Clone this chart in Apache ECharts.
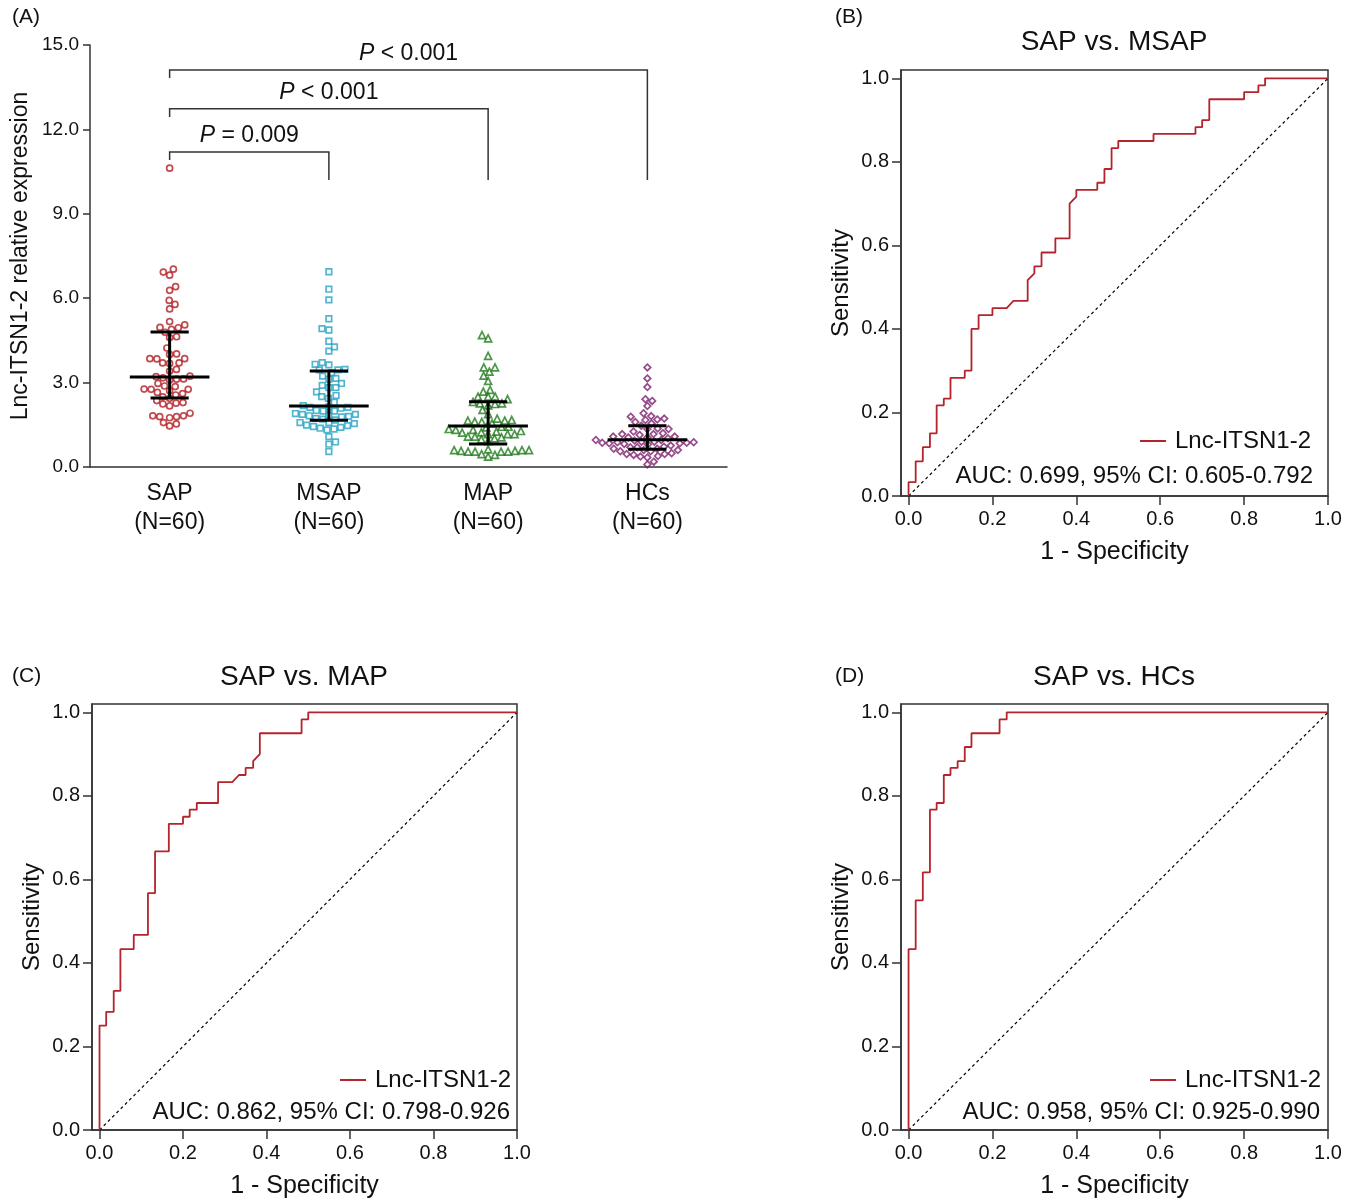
<!DOCTYPE html>
<html>
<head>
<meta charset="utf-8">
<script src="https://cdn.jsdelivr.net/npm/echarts@6/dist/echarts.min.js"></script>
<style>
  html, body { margin: 0; padding: 0; background: #fff; }
  #chart { width: 1354px; height: 1201px; }
</style>
</head>
<body>
<div id="chart"></div>
<script>
// ---- panel A: expression per group ----
const groupLabels = ['SAP\n(N=60)', 'MSAP\n(N=60)', 'MAP\n(N=60)', 'HCs\n(N=60)']
const yTicksA = [0, 3, 6, 9, 12, 15]

const sapValues = [10.62, 7.03, 6.93, 6.82, 6.41, 6.28, 5.92, 5.78, 5.62, 5.17, 5.05, 4.96, 4.95, 4.89, 4.79,
  4.63, 4.60, 4.23, 4.02, 4.00, 3.85, 3.84, 3.85, 3.70, 3.68, 3.70, 3.47, 3.41, 3.23, 3.17, 3.13, 3.21, 3.12,
  3.09, 2.97, 2.86, 2.88, 2.77, 2.76, 2.71, 2.76, 2.65, 2.56, 2.61, 2.49, 2.44, 2.36, 2.27, 2.17, 2.24, 2.29,
  1.91, 1.79, 1.82, 1.79, 1.82, 1.75, 1.58, 1.53, 1.46]
const msapValues = [6.94, 6.32, 5.94, 5.27, 4.92, 4.87, 4.47, 4.27, 4.12, 3.65, 3.63, 3.71, 3.45, 3.47, 3.45,
  3.35, 3.15, 3.12, 3.23, 2.97, 2.90, 2.82, 2.82, 2.67, 2.54, 2.50, 2.44, 2.30, 2.14, 2.12, 2.12, 2.09, 2.18,
  1.99, 1.99, 2.01, 1.87, 1.87, 1.82, 1.80, 1.84, 1.78, 1.90, 1.73, 1.70, 1.67, 1.58, 1.54, 1.47, 1.44, 1.38,
  1.41, 1.49, 1.58, 1.32, 1.35, 1.08, 0.81, 0.89, 0.55]
const mapValues = [4.69, 4.57, 3.95, 3.54, 3.54, 3.39, 3.25, 3.06, 2.74, 2.68, 2.50, 2.50, 2.50, 2.41, 2.31,
  2.26, 2.24, 2.26, 2.19, 2.03, 1.88, 1.72, 1.67, 1.65, 1.65, 1.60, 1.55, 1.61, 1.43, 1.41, 1.43, 1.32, 1.28,
  1.26, 1.32, 1.35, 1.17, 1.17, 1.22, 1.17, 1.23, 1.08, 1.08, 1.05, 0.98, 0.92, 1.02, 0.60, 0.57, 0.55, 0.55,
  0.60, 0.63, 0.55, 0.55, 0.57, 0.60, 0.46, 0.43, 0.37]
const hcsValues = [3.54, 3.15, 2.84, 2.41, 2.35, 2.17, 1.91, 1.81, 1.79, 1.67, 1.69, 1.72, 1.60, 1.55, 1.47,
  1.35, 1.37, 1.35, 1.26, 1.17, 1.14, 1.17, 1.20, 1.08, 1.05, 1.02, 1.08, 1.05, 0.96, 0.90, 0.94, 0.90, 0.96,
  0.86, 0.84, 0.88, 0.82, 0.86, 0.84, 0.80, 0.88, 0.72, 0.70, 0.65, 0.65, 0.70, 0.76, 0.60, 0.56, 0.56, 0.60,
  0.46, 0.46, 0.49, 0.37, 0.34, 0.39, 0.43, 0.19, 0.09]

const medians = [3.20, 2.17, 1.46, 0.97]
const q1Values = [2.45, 1.66, 0.82, 0.63]
const q3Values = [4.80, 3.41, 2.32, 1.47]

// significance brackets: SAP vs group index
const bracketTargets = [1, 2, 3]
const bracketTops = [11.2, 12.73, 14.11]
const bracketLeftEnds = [10.91, 12.44, 13.83]
const bracketRightEnd = 10.2
const bracketLabels = ['= 0.009', '< 0.001', '< 0.001']

// ---- ROC curves ----
const msapFpr = [0, 0, 0.017, 0.017, 0.034, 0.034, 0.051, 0.051, 0.067, 0.067, 0.084, 0.084, 0.1, 0.1, 0.134, 0.134,
  0.15, 0.15, 0.167, 0.167, 0.2, 0.2, 0.234, 0.25, 0.284, 0.284, 0.3, 0.3, 0.317, 0.317, 0.35, 0.35, 0.384, 0.384,
  0.4, 0.4, 0.45, 0.45, 0.467, 0.467, 0.484, 0.484, 0.5, 0.5, 0.584, 0.584, 0.684, 0.684, 0.7, 0.7, 0.717, 0.717,
  0.8, 0.8, 0.834, 0.834, 0.85, 0.85, 1]
const msapTpr = [0, 0.033, 0.033, 0.083, 0.083, 0.117, 0.117, 0.15, 0.15, 0.217, 0.217, 0.233, 0.233, 0.283, 0.283, 0.3,
  0.3, 0.4, 0.4, 0.433, 0.433, 0.45, 0.45, 0.467, 0.467, 0.517, 0.533, 0.55, 0.55, 0.583, 0.583, 0.617, 0.617, 0.7,
  0.717, 0.733, 0.733, 0.75, 0.75, 0.783, 0.783, 0.833, 0.833, 0.85, 0.85, 0.867, 0.867, 0.883, 0.883, 0.9, 0.9, 0.95,
  0.95, 0.967, 0.967, 0.983, 0.983, 1, 1]
const mapFpr = [0, 0, 0.016, 0.016, 0.034, 0.034, 0.05, 0.05, 0.082, 0.082, 0.116, 0.116, 0.133, 0.133, 0.166, 0.166,
  0.2, 0.2, 0.216, 0.216, 0.233, 0.233, 0.284, 0.284, 0.318, 0.334, 0.35, 0.35, 0.368, 0.368, 0.384, 0.384, 0.484,
  0.484, 0.5, 0.5, 1]
const mapTpr = [0, 0.25, 0.25, 0.283, 0.283, 0.333, 0.333, 0.433, 0.433, 0.467, 0.467, 0.567, 0.567, 0.667, 0.667, 0.733,
  0.733, 0.75, 0.75, 0.767, 0.767, 0.783, 0.783, 0.833, 0.833, 0.85, 0.85, 0.867, 0.867, 0.883, 0.9, 0.95, 0.95,
  0.983, 0.983, 1, 1]
const hcsFpr = [0, 0, 0.017, 0.017, 0.034, 0.034, 0.051, 0.051, 0.067, 0.067, 0.084, 0.084, 0.1, 0.1, 0.117, 0.117,
  0.134, 0.134, 0.15, 0.15, 0.217, 0.217, 0.234, 0.234, 1]
const hcsTpr = [0, 0.433, 0.433, 0.55, 0.55, 0.617, 0.617, 0.767, 0.767, 0.783, 0.783, 0.85, 0.85, 0.867, 0.867, 0.883,
  0.883, 0.917, 0.917, 0.95, 0.95, 0.983, 0.983, 1, 1]

const rocTitles = ['SAP vs. MSAP', 'SAP vs. MAP', 'SAP vs. HCs']
const aucTexts = ['AUC: 0.699, 95% CI: 0.605-0.792', 'AUC: 0.862, 95% CI: 0.798-0.926', 'AUC: 0.958, 95% CI: 0.925-0.990']
const rocTicks = [0, 0.2, 0.4, 0.6, 0.8, 1.0]
const seriesName = 'Lnc-ITSN1-2'

const FONT = "'Liberation Sans', Arial, Helvetica, sans-serif"
const INK = '#111'
const AXIS = '#333'
const ROC_RED = '#b3242c'

const gridA = { left: 90, top: 45, width: 637, height: 422 }
const rocGrids = [
  { left: 901, top: 70, width: 427, height: 426 },
  { left: 92, top: 704, width: 425, height: 426 },
  { left: 901, top: 704, width: 427, height: 426 }
]

// simple beeswarm: place each point as close to the centre as it can go without overlap
function swarm(values, diam, pxPerUnit, bandPx) {
  const order = values.map((v, i) => i).sort((a, b) => values[a] - values[b])
  const placed = []
  const out = new Array(values.length)
  let flip = 1
  order.forEach(i => {
    const y = values[i] * pxPerUnit
    const cands = [0]
    placed.forEach(p => {
      const dy = Math.abs(p.y - y)
      if (dy < diam) {
        const dx = Math.sqrt(diam * diam - dy * dy)
        cands.push(p.x + dx, p.x - dx)
      }
    })
    cands.sort((a, b) => (Math.abs(a) - Math.abs(b)) || (flip * (b - a)))
    const x = cands.find(c => placed.every(p => (p.x - c) ** 2 + (p.y - y) ** 2 >= diam * diam - 1e-6))
    if (x !== 0) flip = -flip
    placed.push({ x, y })
    out[i] = x / bandPx
  })
  return out
}

const pxPerUnitA = gridA.height / 15
const bandA = gridA.width / 4
const groupDefs = [
  { values: sapValues, color: '#b01e24', symbol: 'circle', size: 6 },
  { values: msapValues, color: '#27a2c4', symbol: 'rect', size: 5.6 },
  { values: mapValues, color: '#1f7a1c', symbol: 'triangle', size: 7 },
  { values: hcsValues, color: '#7d1f6e', symbol: 'diamond', size: 6.6 }
]

const scatterSeries = groupDefs.map((g, gi) => {
  const offs = swarm(g.values, 7, pxPerUnitA, bandA)
  return {
    type: 'scatter',
    xAxisIndex: 1,
    yAxisIndex: 0,
    symbol: g.symbol,
    symbolSize: g.size,
    itemStyle: { color: 'rgba(255,255,255,0)', borderColor: g.color, borderWidth: 1.7 },
    data: g.values.map((v, i) => [gi + offs[i], v]),
    z: 2
  }
})

const errorSeries = {
  type: 'custom',
  xAxisIndex: 1,
  yAxisIndex: 0,
  z: 5,
  data: medians.map((m, i) => [i, m, q1Values[i], q3Values[i]]),
  renderItem: (params, api) => {
    const i = api.value(0)
    const m = api.value(1), lo = api.value(2), hi = api.value(3)
    const seg = (a, b) => ({
      type: 'line',
      shape: { x1: a[0], y1: a[1], x2: b[0], y2: b[1] },
      style: { stroke: '#000', lineWidth: 3 }
    })
    return {
      type: 'group',
      children: [
        seg(api.coord([i - 0.25, m]), api.coord([i + 0.25, m])),
        seg(api.coord([i, lo]), api.coord([i, hi])),
        seg(api.coord([i - 0.12, lo]), api.coord([i + 0.12, lo])),
        seg(api.coord([i - 0.12, hi]), api.coord([i + 0.12, hi]))
      ]
    }
  }
}

const bracketSeries = {
  type: 'custom',
  xAxisIndex: 1,
  yAxisIndex: 0,
  z: 4,
  data: bracketTargets.map((t, i) => [t, bracketTops[i], bracketLeftEnds[i], bracketRightEnd, i]),
  renderItem: (params, api) => {
    const t = api.value(0), top = api.value(1), le = api.value(2), re = api.value(3)
    const idx = api.value(4)
    const pts = [api.coord([0, le]), api.coord([0, top]), api.coord([t, top]), api.coord([t, re])]
    const mid = api.coord([t / 2, top])
    return {
      type: 'group',
      children: [
        { type: 'polyline', shape: { points: pts }, style: { stroke: AXIS, lineWidth: 1.5, fill: null } },
        {
          type: 'text',
          style: {
            x: mid[0], y: mid[1] - 5,
            text: '{i|P} ' + bracketLabels[idx],
            align: 'center', verticalAlign: 'bottom',
            fontFamily: FONT, fontSize: 23, fill: INK,
            rich: { i: { fontStyle: 'italic', fontFamily: FONT, fontSize: 23, fill: INK } }
          }
        }
      ]
    }
  }
}

const rocData = [[msapFpr, msapTpr], [mapFpr, mapTpr], [hcsFpr, hcsTpr]]

const grids = [gridA].concat(rocGrids.map(g => Object.assign({
  show: true, borderColor: AXIS, borderWidth: 1.5, backgroundColor: 'transparent'
}, g)))

const xAxes = [
  {
    type: 'category', gridIndex: 0, data: groupLabels, boundaryGap: true,
    axisLine: { lineStyle: { color: AXIS, width: 1.5 } },
    axisTick: { alignWithLabel: true, length: 8, lineStyle: { color: AXIS, width: 1.5 } },
    axisLabel: { fontFamily: FONT, fontSize: 23, lineHeight: 29, color: INK, margin: 12 }
  },
  { type: 'value', gridIndex: 0, min: -0.5, max: 3.5, show: false }
]
const yAxes = [
  {
    type: 'value', gridIndex: 0, min: 0, max: 15, interval: 3,
    name: 'Lnc-ITSN1-2 relative expression', nameLocation: 'middle', nameGap: 58,
    nameTextStyle: { fontFamily: FONT, fontSize: 23, color: INK },
    axisLine: { show: true, onZero: false, lineStyle: { color: AXIS, width: 1.5 } },
    axisTick: { show: true, length: 7, lineStyle: { color: AXIS, width: 1.5 } },
    axisLabel: { fontFamily: FONT, fontSize: 19, color: INK, margin: 11, formatter: v => v.toFixed(1) },
    splitLine: { show: false }
  }
]

rocGrids.forEach((g, k) => {
  xAxes.push({
    type: 'value', gridIndex: k + 1, min: -0.018, max: 1,
    name: '1 - Specificity', nameLocation: 'middle', nameGap: 44,
    nameTextStyle: { fontFamily: FONT, fontSize: 25, color: INK },
    axisLine: { show: true, onZero: false, lineStyle: { color: AXIS, width: 1.5 } },
    axisTick: { show: true, length: 9, customValues: rocTicks, lineStyle: { color: AXIS, width: 1.5 } },
    axisLabel: { fontFamily: FONT, fontSize: 20, color: INK, margin: 13, customValues: rocTicks, formatter: v => v.toFixed(1) },
    splitLine: { show: false }
  })
  yAxes.push({
    type: 'value', gridIndex: k + 1, min: 0, max: 1.02,
    name: 'Sensitivity', nameLocation: 'middle', nameGap: 48,
    nameTextStyle: { fontFamily: FONT, fontSize: 24, color: INK },
    axisLine: { show: true, onZero: false, lineStyle: { color: AXIS, width: 1.5 } },
    axisTick: { show: true, length: 9, customValues: rocTicks, lineStyle: { color: AXIS, width: 1.5 } },
    axisLabel: { fontFamily: FONT, fontSize: 20, color: INK, margin: 12, customValues: rocTicks, formatter: v => v.toFixed(1) },
    splitLine: { show: false }
  })
})

const rocSeries = []
rocData.forEach(([fpr, tpr], k) => {
  rocSeries.push({
    type: 'line', name: 'diag', xAxisIndex: k + 2, yAxisIndex: k + 1,
    data: [[0, 0], [1, 1]], symbol: 'none', silent: true,
    lineStyle: { color: '#000', width: 1.2, type: [3, 3] }, z: 2
  })
  rocSeries.push({
    type: 'line', name: seriesName, xAxisIndex: k + 2, yAxisIndex: k + 1,
    data: fpr.map((x, i) => [x, tpr[i]]), symbol: 'none', color: ROC_RED,
    lineStyle: { color: ROC_RED, width: 1.8 }, z: 3
  })
})

const legendPos = [{ left: 1140, top: 429 }, { left: 340, top: 1068 }, { left: 1150, top: 1068 }]
const aucPos = [[1313, 476], [510, 1112], [1320, 1112]]
const titlePos = [[1114, 28], [304, 663], [1114, 663]]
const letterPos = [['(A)', 12, 7], ['(B)', 835, 7], ['(C)', 12, 666], ['(D)', 835, 666]]

const titles = rocTitles.map((t, k) => ({
  text: t, left: titlePos[k][0], top: titlePos[k][1], textAlign: 'center', padding: 0,
  textStyle: { fontFamily: FONT, fontSize: 28, fontWeight: 'normal', color: INK }
})).concat(letterPos.map(([t, x, y]) => ({
  text: t, left: x, top: y, padding: 0,
  textStyle: { fontFamily: FONT, fontSize: 21, fontWeight: 'normal', color: INK }
})))

const chart = echarts.init(document.getElementById('chart'), null, { renderer: 'canvas' })
chart.setOption({
  backgroundColor: '#fff',
  animation: false,
  textStyle: { fontFamily: FONT },
  title: titles,
  grid: grids,
  xAxis: xAxes,
  yAxis: yAxes,
  legend: legendPos.map(p => ({
    left: p.left, top: p.top, padding: 0,
    data: [{ name: seriesName, icon: 'rect' }],
    itemWidth: 26, itemHeight: 2, selectedMode: false,
    textStyle: { fontFamily: FONT, fontSize: 24, color: INK, padding: [0, 0, 0, 4] }
  })),
  graphic: aucTexts.map((t, k) => ({
    type: 'text', x: aucPos[k][0], y: aucPos[k][1],
    style: { text: t, align: 'right', verticalAlign: 'middle', fontFamily: FONT, fontSize: 24, fill: INK }
  })),
  series: scatterSeries.concat([errorSeries, bracketSeries], rocSeries)
})
</script>
</body>
</html>
